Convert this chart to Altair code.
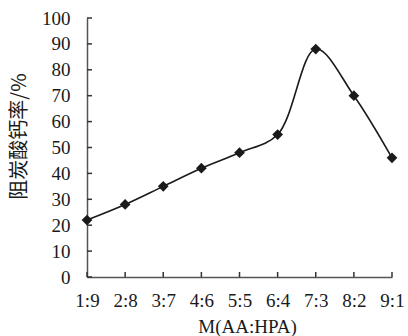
import altair as alt
import pandas as pd

ratios = ["1:9", "2:8", "3:7", "4:6", "5:5", "6:4", "7:3", "8:2", "9:1"]
rates = [22, 28, 35, 42, 48, 55, 88, 70, 46]
y_ticks = [0, 10, 20, 30, 40, 50, 60, 70, 80, 90, 100]

df = pd.DataFrame({"ratio": ratios, "rate": rates})
ytick_df = pd.DataFrame({"ratio": [ratios[0]] * len(y_ticks), "rate": y_ticks})
xtick_df = pd.DataFrame({"ratio": ratios, "rate": [0] * len(ratios)})

xscale = alt.Scale(type="point", padding=0, domain=ratios)
yscale = alt.Scale(domain=[0, 100], nice=False, zero=True)

xaxis = alt.Axis(
    title="M(AA:HPA)",
    labelAngle=0,
    labelOverlap=False,
    labelFlush=False,
    labelPadding=14,
    ticks=False,
    labelFont="Liberation Serif",
    titleX=160,
    titleY=49,
    titleBaseline="middle",
    titleFont="Liberation Serif",
    titleFontSize=19,
)
yaxis = alt.Axis(
    title="阻炭酸钙率/%",
    values=y_ticks,
    grid=False,
    labelOverlap=False,
    labelPadding=17,
    ticks=False,
    labelFont="Liberation Serif",
    titleAngle=270,
    titleX=-68,
    titleY=118,
    titleAlign="center",
    titleBaseline="middle",
    titleFont="Noto Sans CJK SC",
    titleFontSize=20,
)

X = alt.X("ratio:N", sort=ratios, scale=xscale, axis=xaxis)
Y = alt.Y("rate:Q", scale=yscale, axis=yaxis)

base = alt.Chart(df).encode(x=X, y=Y)

line = base.mark_line(
    interpolate="catmull-rom", color="#1a1a1a", strokeWidth=1.6
)
points = base.mark_point(
    shape="diamond", filled=True, size=115, color="#1a1a1a", opacity=1
)

yticks = alt.Chart(ytick_df).mark_rule(
    color="#333333", strokeWidth=1.5, x2Offset=5
).encode(x=X, x2="ratio:N", y=Y)
xticks = alt.Chart(xtick_df).mark_rule(
    color="#333333", strokeWidth=1.5, y2Offset=-5
).encode(x=X, y=Y, y2="rate:Q")

chart = (
    alt.layer(line, yticks, xticks, points)
    .properties(
        width=305,
        height=259,
        autosize=alt.AutoSizeParams(type="none"),
        padding={"left": 87, "top": 18, "right": 16, "bottom": 59},
        background="white",
    )
    .configure_view(stroke=None)
    .configure_axis(
        labelFontSize=19,
        labelColor="#1a1a1a",
        titleColor="#1a1a1a",
        titleFontWeight="normal",
        domainColor="#555555",
        domainWidth=1.5,
    )
)

chart.save("out.html", embed_options={"renderer": "svg", "actions": False})
